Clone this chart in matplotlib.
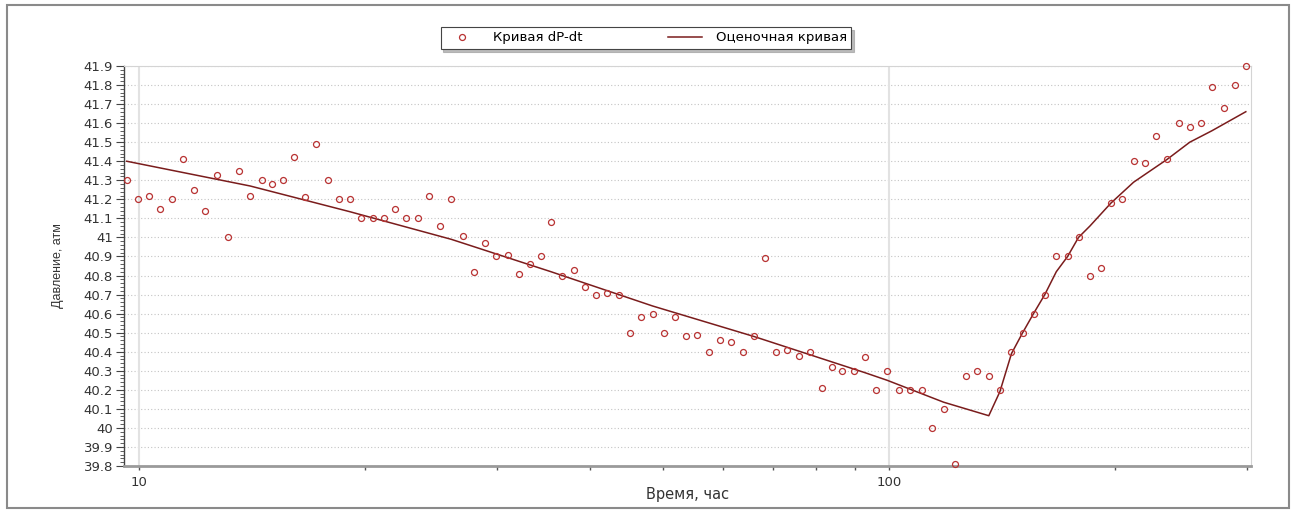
import matplotlib
matplotlib.use("Agg")
import matplotlib.pyplot as plt
from matplotlib.lines import Line2D
from matplotlib.patches import Rectangle
from matplotlib.ticker import FixedLocator, MultipleLocator, FuncFormatter, NullFormatter

plt.rcParams['font.family'] = ['DejaVu Sans']

# measured points (time, hours / pressure, atm)
time_h = [9.63, 9.96, 10.31, 10.68, 11.05, 11.45, 11.84, 12.26, 12.69, 13.13,
          13.59, 14.07, 14.57, 15.05, 15.55, 16.08, 16.65, 17.23, 17.85, 18.48,
          19.11, 19.79, 20.49, 21.20, 21.96, 22.72, 23.53, 24.34, 25.19, 26.09,
          27.01, 27.97, 28.95, 29.95, 31.05, 32.11, 33.24, 34.39, 35.43, 36.64,
          37.98, 39.29, 40.67, 42.11, 43.61, 45.15, 46.70, 48.41, 50.12, 51.85,
          53.67, 55.51, 57.54, 59.58, 61.62, 63.82, 66.07, 68.41, 70.75, 73.18,
          75.86, 78.54, 81.34, 84.0, 86.63, 89.72, 92.90, 96.18, 99.47, 103.0,
          106.8, 110.6, 114.2, 118.3, 122.5, 126.8, 131.1, 135.9, 140.6, 145.7,
          150.8, 155.9, 161.4, 167.2, 173.1, 179.0, 185.4, 191.9, 197.7, 204.7,
          212.0, 219.3, 227.0, 235.0, 243.4, 251.9, 260.6, 269.6, 279.4, 289.3,
          299.2]
pressure = [41.30, 41.20, 41.22, 41.15, 41.20, 41.41, 41.25, 41.14, 41.33, 41.00,
            41.35, 41.22, 41.30, 41.28, 41.30, 41.42, 41.21, 41.49, 41.30, 41.20,
            41.20, 41.10, 41.10, 41.10, 41.15, 41.10, 41.10, 41.22, 41.06, 41.20,
            41.01, 40.82, 40.97, 40.90, 40.91, 40.81, 40.86, 40.90, 41.08, 40.80,
            40.83, 40.74, 40.70, 40.71, 40.70, 40.50, 40.58, 40.60, 40.50, 40.58,
            40.48, 40.49, 40.40, 40.46, 40.45, 40.40, 40.48, 40.89, 40.40, 40.41,
            40.38, 40.40, 40.21, 40.32, 40.30, 40.30, 40.37, 40.20, 40.30, 40.20,
            40.20, 40.20, 40.00, 40.10, 39.81, 40.27, 40.30, 40.27, 40.20, 40.40,
            40.50, 40.60, 40.70, 40.90, 40.90, 41.00, 40.80, 40.84, 41.18, 41.20,
            41.40, 41.39, 41.53, 41.41, 41.60, 41.58, 41.60, 41.79, 41.68, 41.80,
            41.90]

# fitted curve
fit_time = [9.63, 14.07, 19.11, 26.09, 35.43, 48.41, 66.07, 92.90, 99.47, 118.3,
            135.9, 140.6, 145.7, 150.8, 155.9, 161.4, 167.2, 173.1, 179.0, 185.4,
            197.7, 212.0, 235.0, 251.9, 269.6, 299.2]
fit_pressure = [41.40, 41.27, 41.135, 40.99, 40.82, 40.64, 40.48, 40.29, 40.25, 40.135,
                40.064, 40.19, 40.39, 40.50, 40.60, 40.70, 40.82, 40.90, 41.00, 41.06,
                41.18, 41.29, 41.41, 41.50, 41.56, 41.66]

y_ticks = [39.8, 39.9, 40.0, 40.1, 40.2, 40.3, 40.4, 40.5, 40.6, 40.7, 40.8,
           40.9, 41.0, 41.1, 41.2, 41.3, 41.4, 41.5, 41.6, 41.7, 41.8, 41.9]

W, H = 1295, 512
fig = plt.figure(figsize=(W / 100, H / 100), dpi=100)
fig.patches.append(Rectangle((7 / W, 1 - 508 / H), 1282 / W, 503 / H, transform=fig.transFigure,
                             fill=False, edgecolor='#8a8a8a', linewidth=1.5))

ax = fig.add_axes([124 / W, 1 - 466 / H, (1251 - 124) / W, (466 - 66) / H])
ax.set_xscale('log')
ax.set_xlim(9.55, 304)
ax.set_ylim(39.8, 41.9)

# grid
for v in y_ticks:
    ax.axhline(v, color='#c4c4c4', linestyle=(0, (1, 2)), linewidth=0.8, zorder=0)
for v in [10, 100]:
    ax.axvline(v, color='#e2e2e2', linewidth=1.5, zorder=0)

ax.plot(fit_time, fit_pressure, color='#7a1c1c', linewidth=1.1, zorder=2)
ax.plot(time_h, pressure, linestyle='none', marker='o', markersize=4.3,
        markerfacecolor='none', markeredgecolor='#b83232', markeredgewidth=0.9,
        clip_on=False, zorder=3)

ax.yaxis.set_major_locator(FixedLocator(y_ticks))
ax.yaxis.set_minor_locator(MultipleLocator(0.02))
ax.yaxis.set_major_formatter(FuncFormatter(lambda v, p: '%g' % round(v, 1)))
ax.xaxis.set_major_locator(FixedLocator([10, 100]))
ax.xaxis.set_minor_locator(FixedLocator([20, 30, 40, 50, 60, 70, 80, 90, 200, 300]))
ax.xaxis.set_major_formatter(FuncFormatter(lambda v, p: '%d' % v))
ax.xaxis.set_minor_formatter(NullFormatter())

ax.tick_params(axis='y', which='major', length=6, width=0.8, color='#444444',
               labelsize=9.5, labelcolor='#333333', pad=2)
ax.tick_params(axis='y', which='minor', length=3, width=0.6, color='#444444')
ax.tick_params(axis='x', which='both', length=3, width=1.0, color='#555555',
               labelsize=9.5, labelcolor='#333333', pad=4)

ax.spines['left'].set_color('#444444')
ax.spines['left'].set_linewidth(1.0)
ax.spines['bottom'].set_color('#9a9a9a')
ax.spines['bottom'].set_linewidth(2.0)
ax.spines['top'].set_color('#d4d4d4')
ax.spines['right'].set_color('#d4d4d4')

fig.text(687.5 / W, 1 - 494 / H, 'Время, час', ha='center', va='center',
         fontsize=10.5, color='#333333')
fig.text(58 / W, 1 - 266 / H, 'Давление, атм', ha='center', va='center',
         rotation=90, fontsize=9, color='#333333', family='Liberation Sans')

handles = [Line2D([], [], linestyle='none', marker='o', markersize=4.3, markerfacecolor='none',
                  markeredgecolor='#b83232', markeredgewidth=0.9),
           Line2D([], [], color='#7a1c1c', linewidth=1.1)]
leg = fig.legend(handles, ['Кривая dP-dt', 'Оценочная кривая'], ncol=2,
                 loc='center', bbox_to_anchor=(646 / W, 1 - 38 / H),
                 fontsize=9.5, frameon=True, fancybox=False,
                 shadow={'color': '#a0a0a0', 'alpha': 0.7},
                 edgecolor='#444444', handlelength=2.6, columnspacing=6.5,
                 borderpad=0.35, borderaxespad=0.0, handletextpad=1.0)
leg.get_frame().set_linewidth(0.8)
leg._legend_box.align = 'left'
leg.borderpad = 0.35

fig.savefig('out.png', dpi=100, facecolor='white')
